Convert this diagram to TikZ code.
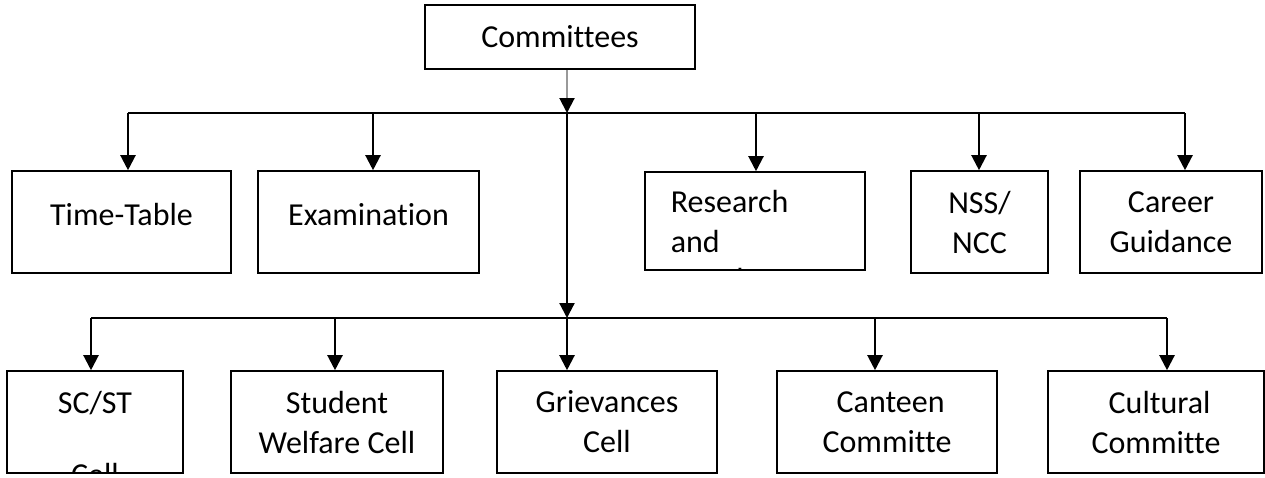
\documentclass[tikz,border=0pt]{standalone}
\usepackage{fontspec}
\setmainfont[Ligatures={NoCommon}]{Carlito}
\usetikzlibrary{arrows.meta}
\usetikzlibrary{positioning}
\tikzset{
    boxnode/.style={
        draw,              % 边框
        line width=1.6pt,
        inner sep=0pt,
        align=center,
        font=\fontsize{32pt}{40pt}\selectfont
    },
    boxtext/.style={
        draw=none,
        inner sep=0pt,
        minimum width=0pt,
        minimum height=0pt,
        font=\fontsize{32pt}{40pt}\selectfont
    },
    arrline/.style={
        line width=2.2pt,
        -{Triangle[width=15pt,length=15pt]}
    }
}

\begin{document}
\begin{tikzpicture}[x=1pt, y=-1pt]

\useasboundingbox (0,0) rectangle (1265,477);

% 顶部
\node[boxnode, minimum width=270pt, minimum height=64pt] (comm) at (560,37) {Committees};

% 第一行
\node[boxnode, minimum width=219pt, minimum height=102pt, text depth=16pt] (tt) at (121.5,222) {Time-Table};
\node[boxnode, minimum width=221pt, minimum height=102pt, text depth=16pt] (exam) at (368.5,222) {Examination};
\node[boxnode, minimum width=220pt, minimum height=98pt,
      path picture={\node[boxtext, anchor=north west, align=left] (rdtext)
        at ([xshift=25pt, yshift=-17pt]path picture bounding box.north west)
        {Research\\and\\[-2pt]Development};}] (rd) at (755,221) {};
\node[boxnode, minimum width=137pt, minimum height=102pt] (nss) at (979.5,222) {NSS/\\NCC};
\node[boxnode, minimum width=182pt, minimum height=102pt] (cg) at (1171,222) {Career\\Guidance};

% 第二行
\node[boxnode, minimum width=176pt, minimum height=102pt,
      path picture={\node[boxtext, anchor=north, align=center] (scsttext)
        at ([yshift=-19pt]path picture bounding box.north)
        {SC/ST\\[32pt]Cell};}] (scst) at (95,422) {};
\node[boxnode, minimum width=212pt, minimum height=102pt] (swc) at (337,422) {Student\\Welfare Cell};
\node[boxnode, minimum width=220pt, minimum height=102pt] (gc) at (607,422) {Grievances\\Cell};
\node[boxnode, minimum width=220pt, minimum height=102pt] (cc) at (887,422) {\ Canteen\\Committe\ };
\node[boxnode, minimum width=216pt, minimum height=102pt] (cul) at (1156,422) {\ Cultural\\Committe\ };

% 连接点
\coordinate (hub1) at (567,113);
\coordinate (hub2) at (567,318);
\coordinate (a1) at (128,113);
\coordinate (a2) at (373,113);
\coordinate (a3) at (756,113);
\coordinate (a4) at (979,113);
\coordinate (a5) at (1185,113);
\coordinate (c1) at (91,318);
\coordinate (c2) at (335,318);
\coordinate (c4) at (875,318);
\coordinate (c5) at (1167,318);

\draw[line width=2pt, gray!80, -{Triangle[width=15pt,length=15pt,color=black]}] (comm.south -| hub1) -- (hub1);

\draw[line width=2.2pt] (a1) -- (a5);
\draw[arrline] (a1) -- (a1 |- tt.north);
\draw[arrline] (a2) -- (a2 |- exam.north);
\draw[arrline] (a3) -- (a3 |- rd.north);
\draw[arrline] (a4) -- (a4 |- nss.north);
\draw[arrline] (a5) -- (a5 |- cg.north);

\draw[arrline] (hub1) -- (hub2);

\draw[line width=2.2pt] (c1) -- (c5);
\draw[arrline] (c1) -- (c1 |- scst.north);
\draw[arrline] (c2) -- (c2 |- swc.north);
\draw[arrline] (hub2) -- (hub2 |- gc.north);
\draw[arrline] (c4) -- (c4 |- cc.north);
\draw[arrline] (c5) -- (c5 |- cul.north);

\end{tikzpicture}
\end{document}
